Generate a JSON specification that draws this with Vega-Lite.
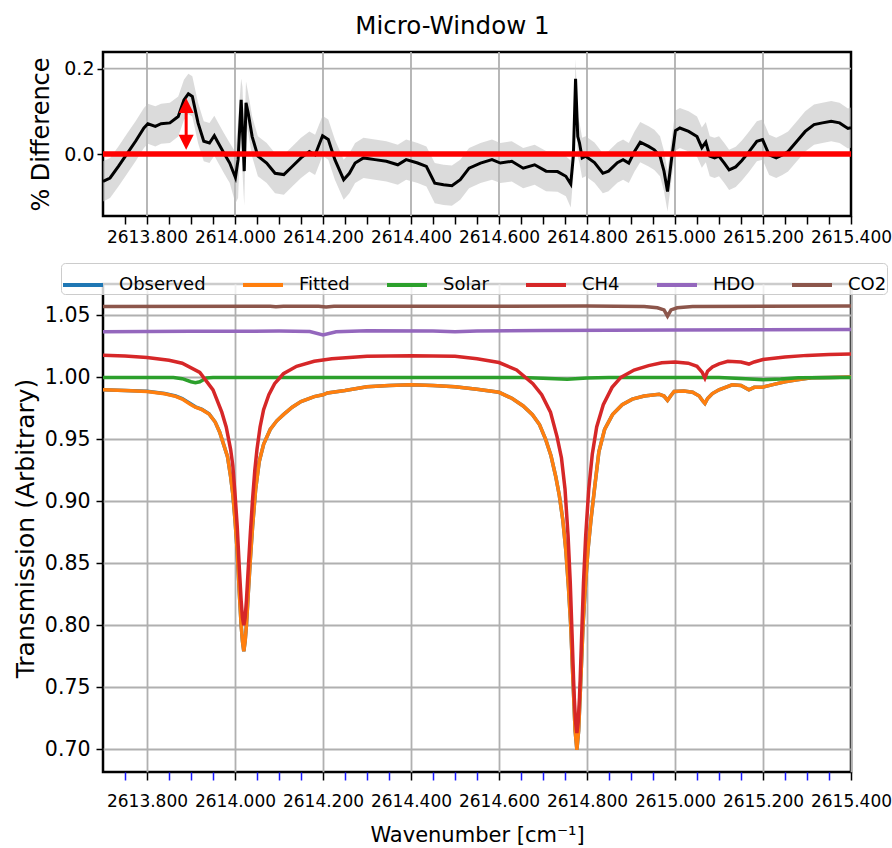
{
"$schema": "https://vega.github.io/schema/vega-lite/v6.json",
"padding": {"left": 12, "top": 14, "right": 0, "bottom": 0},
"bounds": "flush",
"spacing": 68,
"title": {"text": "Micro-Window 1", "font": "DejaVu Sans", "fontSize": 24.5, "fontWeight": "normal", "color": "black", "anchor": "middle", "offset": 10},
"config": {
  "view": {"stroke": "black", "strokeWidth": 2.5},
  "axis": {"labelFont": "DejaVu Sans", "titleFont": "DejaVu Sans", "labelColor": "black", "titleColor": "black", "titleFontWeight": "normal", "gridColor": "#b0b0b0", "gridWidth": 1.8, "domain": false, "tickColor": "black"},
  "legend": {"orient": "none", "legendX": -42, "legendY": 211, "direction": "horizontal", "columns": 6, "symbolType": "stroke", "symbolStrokeWidth": 4, "symbolSize": 1600, "labelFont": "DejaVu Sans", "labelFontSize": 18, "labelColor": "black", "labelOffset": 14, "columnPadding": 29, "fillColor": "rgba(255,255,255,0.8)", "strokeColor": "#cccccc", "cornerRadius": 4, "padding": 0}
},
"datasets": {
  "gx": [{"x": 2613.8}, {"x": 2614.0}, {"x": 2614.2}, {"x": 2614.4}, {"x": 2614.6}, {"x": 2614.8}, {"x": 2615.0}, {"x": 2615.2}],
  "gy": [{"x": 2613.7, "x2": 2615.4, "d": 0.2}],
  "diff": [
    {"x": 2613.700, "d": -0.064, "lo": -0.111, "hi": -0.017}, {"x": 2613.716, "d": -0.056, "lo": -0.103, "hi": -0.009}, {"x": 2613.735, "d": -0.029, "lo": -0.076, "hi": 0.018}, {"x": 2613.754, "d": 0.000, "lo": -0.047, "hi": 0.047}, {"x": 2613.774, "d": 0.030, "lo": -0.017, "hi": 0.077}, {"x": 2613.793, "d": 0.061, "lo": 0.014, "hi": 0.108}, {"x": 2613.802, "d": 0.071, "lo": 0.024, "hi": 0.118}, {"x": 2613.819, "d": 0.065, "lo": 0.018, "hi": 0.112}, {"x": 2613.832, "d": 0.071, "lo": 0.024, "hi": 0.118}, {"x": 2613.852, "d": 0.073, "lo": 0.026, "hi": 0.120}, {"x": 2613.871, "d": 0.088, "lo": 0.041, "hi": 0.135}, {"x": 2613.884, "d": 0.127, "lo": 0.080, "hi": 0.174}, {"x": 2613.894, "d": 0.141, "lo": 0.094, "hi": 0.188}, {"x": 2613.903, "d": 0.135, "lo": 0.088, "hi": 0.182}, {"x": 2613.916, "d": 0.073, "lo": 0.026, "hi": 0.120}, {"x": 2613.929, "d": 0.030, "lo": -0.017, "hi": 0.077}, {"x": 2613.942, "d": 0.026, "lo": -0.021, "hi": 0.073}, {"x": 2613.953, "d": 0.043, "lo": -0.004, "hi": 0.090}, {"x": 2613.962, "d": 0.026, "lo": -0.021, "hi": 0.073}, {"x": 2613.975, "d": 0.002, "lo": -0.045, "hi": 0.049}, {"x": 2613.988, "d": -0.021, "lo": -0.068, "hi": 0.026}, {"x": 2614.001, "d": -0.055, "lo": -0.115, "hi": 0.005}, {"x": 2614.007, "d": -0.013, "lo": -0.103, "hi": 0.077}, {"x": 2614.014, "d": 0.127, "lo": 0.077, "hi": 0.177}, {"x": 2614.017, "d": 0.057, "lo": -0.043, "hi": 0.157}, {"x": 2614.021, "d": -0.040, "lo": -0.120, "hi": 0.040}, {"x": 2614.025, "d": 0.120, "lo": 0.070, "hi": 0.170}, {"x": 2614.030, "d": 0.096, "lo": 0.049, "hi": 0.143}, {"x": 2614.039, "d": 0.041, "lo": -0.006, "hi": 0.088}, {"x": 2614.052, "d": -0.005, "lo": -0.052, "hi": 0.042}, {"x": 2614.072, "d": -0.021, "lo": -0.068, "hi": 0.026}, {"x": 2614.091, "d": -0.045, "lo": -0.092, "hi": 0.002}, {"x": 2614.111, "d": -0.048, "lo": -0.095, "hi": -0.001}, {"x": 2614.130, "d": -0.029, "lo": -0.076, "hi": 0.018}, {"x": 2614.150, "d": -0.009, "lo": -0.056, "hi": 0.038}, {"x": 2614.169, "d": 0.006, "lo": -0.041, "hi": 0.053}, {"x": 2614.182, "d": -0.002, "lo": -0.049, "hi": 0.045}, {"x": 2614.199, "d": 0.043, "lo": -0.004, "hi": 0.090}, {"x": 2614.212, "d": 0.034, "lo": -0.013, "hi": 0.081}, {"x": 2614.227, "d": -0.013, "lo": -0.060, "hi": 0.034}, {"x": 2614.247, "d": -0.060, "lo": -0.107, "hi": -0.013}, {"x": 2614.260, "d": -0.045, "lo": -0.092, "hi": 0.002}, {"x": 2614.273, "d": -0.021, "lo": -0.068, "hi": 0.026}, {"x": 2614.292, "d": -0.009, "lo": -0.056, "hi": 0.038}, {"x": 2614.318, "d": -0.013, "lo": -0.060, "hi": 0.034}, {"x": 2614.344, "d": -0.017, "lo": -0.064, "hi": 0.030}, {"x": 2614.370, "d": -0.025, "lo": -0.072, "hi": 0.022}, {"x": 2614.389, "d": -0.013, "lo": -0.060, "hi": 0.034}, {"x": 2614.415, "d": -0.021, "lo": -0.068, "hi": 0.026}, {"x": 2614.435, "d": -0.029, "lo": -0.076, "hi": 0.018}, {"x": 2614.454, "d": -0.068, "lo": -0.115, "hi": -0.021}, {"x": 2614.474, "d": -0.072, "lo": -0.119, "hi": -0.025}, {"x": 2614.493, "d": -0.074, "lo": -0.121, "hi": -0.027}, {"x": 2614.512, "d": -0.060, "lo": -0.107, "hi": -0.013}, {"x": 2614.532, "d": -0.033, "lo": -0.080, "hi": 0.014}, {"x": 2614.558, "d": -0.021, "lo": -0.068, "hi": 0.026}, {"x": 2614.584, "d": -0.013, "lo": -0.060, "hi": 0.034}, {"x": 2614.603, "d": -0.021, "lo": -0.068, "hi": 0.026}, {"x": 2614.629, "d": -0.017, "lo": -0.064, "hi": 0.030}, {"x": 2614.655, "d": -0.033, "lo": -0.080, "hi": 0.014}, {"x": 2614.681, "d": -0.025, "lo": -0.072, "hi": 0.022}, {"x": 2614.707, "d": -0.040, "lo": -0.087, "hi": 0.007}, {"x": 2614.733, "d": -0.041, "lo": -0.088, "hi": 0.006}, {"x": 2614.752, "d": -0.052, "lo": -0.099, "hi": -0.005}, {"x": 2614.763, "d": -0.070, "lo": -0.125, "hi": -0.015}, {"x": 2614.769, "d": -0.005, "lo": -0.052, "hi": 0.042}, {"x": 2614.774, "d": 0.176, "lo": 0.130, "hi": 0.222}, {"x": 2614.779, "d": 0.041, "lo": -0.006, "hi": 0.088}, {"x": 2614.783, "d": 0.026, "lo": -0.021, "hi": 0.073}, {"x": 2614.789, "d": -0.009, "lo": -0.056, "hi": 0.038}, {"x": 2614.797, "d": -0.005, "lo": -0.052, "hi": 0.042}, {"x": 2614.817, "d": -0.020, "lo": -0.067, "hi": 0.027}, {"x": 2614.836, "d": -0.045, "lo": -0.092, "hi": 0.002}, {"x": 2614.849, "d": -0.040, "lo": -0.087, "hi": 0.007}, {"x": 2614.869, "d": -0.020, "lo": -0.067, "hi": 0.027}, {"x": 2614.882, "d": -0.013, "lo": -0.060, "hi": 0.034}, {"x": 2614.895, "d": -0.021, "lo": -0.068, "hi": 0.026}, {"x": 2614.908, "d": 0.006, "lo": -0.041, "hi": 0.053}, {"x": 2614.921, "d": 0.028, "lo": -0.019, "hi": 0.075}, {"x": 2614.940, "d": 0.018, "lo": -0.029, "hi": 0.065}, {"x": 2614.953, "d": 0.010, "lo": -0.037, "hi": 0.057}, {"x": 2614.966, "d": -0.005, "lo": -0.052, "hi": 0.042}, {"x": 2614.975, "d": -0.040, "lo": -0.087, "hi": 0.007}, {"x": 2614.983, "d": -0.0875, "lo": -0.1345, "hi": -0.0405}, {"x": 2614.992, "d": -0.013, "lo": -0.060, "hi": 0.034}, {"x": 2615.001, "d": 0.055, "lo": 0.008, "hi": 0.102}, {"x": 2615.011, "d": 0.061, "lo": 0.014, "hi": 0.108}, {"x": 2615.031, "d": 0.053, "lo": 0.006, "hi": 0.100}, {"x": 2615.050, "d": 0.041, "lo": -0.006, "hi": 0.088}, {"x": 2615.061, "d": 0.015, "lo": -0.032, "hi": 0.062}, {"x": 2615.070, "d": 0.028, "lo": -0.019, "hi": 0.075}, {"x": 2615.079, "d": -0.005, "lo": -0.052, "hi": 0.042}, {"x": 2615.090, "d": -0.009, "lo": -0.056, "hi": 0.038}, {"x": 2615.100, "d": -0.005, "lo": -0.052, "hi": 0.042}, {"x": 2615.112, "d": -0.021, "lo": -0.068, "hi": 0.026}, {"x": 2615.123, "d": -0.037, "lo": -0.084, "hi": 0.010}, {"x": 2615.138, "d": -0.030, "lo": -0.077, "hi": 0.017}, {"x": 2615.152, "d": -0.015, "lo": -0.062, "hi": 0.032}, {"x": 2615.168, "d": 0.005, "lo": -0.042, "hi": 0.052}, {"x": 2615.186, "d": 0.030, "lo": -0.017, "hi": 0.077}, {"x": 2615.199, "d": 0.034, "lo": -0.013, "hi": 0.081}, {"x": 2615.214, "d": -0.002, "lo": -0.049, "hi": 0.045}, {"x": 2615.230, "d": -0.009, "lo": -0.056, "hi": 0.038}, {"x": 2615.244, "d": -0.002, "lo": -0.049, "hi": 0.045}, {"x": 2615.257, "d": 0.006, "lo": -0.041, "hi": 0.053}, {"x": 2615.277, "d": 0.030, "lo": -0.017, "hi": 0.077}, {"x": 2615.296, "d": 0.053, "lo": 0.006, "hi": 0.100}, {"x": 2615.316, "d": 0.069, "lo": 0.022, "hi": 0.116}, {"x": 2615.335, "d": 0.073, "lo": 0.026, "hi": 0.120}, {"x": 2615.355, "d": 0.077, "lo": 0.030, "hi": 0.124}, {"x": 2615.374, "d": 0.073, "lo": 0.026, "hi": 0.120}, {"x": 2615.393, "d": 0.060, "lo": 0.013, "hi": 0.107}, {"x": 2615.400, "d": 0.062, "lo": 0.015, "hi": 0.109}
  ],
  "zero": [{"x": 2613.7, "x2": 2615.4, "d": 0}],
  "shaft": [{"x": 2613.889, "d": 0.03, "d2": 0.11}],
  "heads": [{"x": 2613.889, "d": 0.1135, "part": "up"}, {"x": 2613.889, "d": 0.0275, "part": "down"}],
  "spec": [
    {"s": "Observed", "x": 2613.70, "T": 0.9900}, {"s": "Observed", "x": 2613.75, "T": 0.9895}, {"s": "Observed", "x": 2613.80, "T": 0.9888}, {"s": "Observed", "x": 2613.84, "T": 0.9870}, {"s": "Observed", "x": 2613.865, "T": 0.9850}, {"s": "Observed", "x": 2613.88, "T": 0.9830}, {"s": "Observed", "x": 2613.90, "T": 0.9785}, {"s": "Observed", "x": 2613.91, "T": 0.9763}, {"s": "Observed", "x": 2613.925, "T": 0.9742}, {"s": "Observed", "x": 2613.941, "T": 0.9706}, {"s": "Observed", "x": 2613.955, "T": 0.9640}, {"s": "Observed", "x": 2613.965, "T": 0.9560}, {"s": "Observed", "x": 2613.975, "T": 0.9450}, {"s": "Observed", "x": 2613.983, "T": 0.9360}, {"s": "Observed", "x": 2613.99, "T": 0.9200}, {"s": "Observed", "x": 2613.995, "T": 0.9060}, {"s": "Observed", "x": 2614.000, "T": 0.8850}, {"s": "Observed", "x": 2614.005, "T": 0.8600}, {"s": "Observed", "x": 2614.010, "T": 0.8250}, {"s": "Observed", "x": 2614.014, "T": 0.8000}, {"s": "Observed", "x": 2614.017, "T": 0.7870}, {"s": "Observed", "x": 2614.020, "T": 0.7790}, {"s": "Observed", "x": 2614.023, "T": 0.7870}, {"s": "Observed", "x": 2614.026, "T": 0.8000}, {"s": "Observed", "x": 2614.030, "T": 0.8250}, {"s": "Observed", "x": 2614.035, "T": 0.8540}, {"s": "Observed", "x": 2614.040, "T": 0.8800}, {"s": "Observed", "x": 2614.047, "T": 0.9100}, {"s": "Observed", "x": 2614.055, "T": 0.9320}, {"s": "Observed", "x": 2614.065, "T": 0.9460}, {"s": "Observed", "x": 2614.08, "T": 0.9580}, {"s": "Observed", "x": 2614.095, "T": 0.9650}, {"s": "Observed", "x": 2614.11, "T": 0.9700}, {"s": "Observed", "x": 2614.13, "T": 0.9760}, {"s": "Observed", "x": 2614.15, "T": 0.9805}, {"s": "Observed", "x": 2614.18, "T": 0.9845}, {"s": "Observed", "x": 2614.20, "T": 0.9860}, {"s": "Observed", "x": 2614.21, "T": 0.9875}, {"s": "Observed", "x": 2614.25, "T": 0.9895}, {"s": "Observed", "x": 2614.30, "T": 0.9925}, {"s": "Observed", "x": 2614.35, "T": 0.9935}, {"s": "Observed", "x": 2614.40, "T": 0.9940}, {"s": "Observed", "x": 2614.45, "T": 0.9935}, {"s": "Observed", "x": 2614.50, "T": 0.9925}, {"s": "Observed", "x": 2614.55, "T": 0.9905}, {"s": "Observed", "x": 2614.60, "T": 0.9880}, {"s": "Observed", "x": 2614.63, "T": 0.9830}, {"s": "Observed", "x": 2614.655, "T": 0.9770}, {"s": "Observed", "x": 2614.676, "T": 0.9700}, {"s": "Observed", "x": 2614.692, "T": 0.9620}, {"s": "Observed", "x": 2614.706, "T": 0.9500}, {"s": "Observed", "x": 2614.718, "T": 0.9370}, {"s": "Observed", "x": 2614.729, "T": 0.9200}, {"s": "Observed", "x": 2614.737, "T": 0.9050}, {"s": "Observed", "x": 2614.745, "T": 0.8850}, {"s": "Observed", "x": 2614.752, "T": 0.8600}, {"s": "Observed", "x": 2614.758, "T": 0.8300}, {"s": "Observed", "x": 2614.763, "T": 0.8000}, {"s": "Observed", "x": 2614.767, "T": 0.7650}, {"s": "Observed", "x": 2614.770, "T": 0.7400}, {"s": "Observed", "x": 2614.773, "T": 0.7150}, {"s": "Observed", "x": 2614.777, "T": 0.6995}, {"s": "Observed", "x": 2614.781, "T": 0.7150}, {"s": "Observed", "x": 2614.784, "T": 0.7400}, {"s": "Observed", "x": 2614.787, "T": 0.7650}, {"s": "Observed", "x": 2614.791, "T": 0.8000}, {"s": "Observed", "x": 2614.796, "T": 0.8300}, {"s": "Observed", "x": 2614.802, "T": 0.8600}, {"s": "Observed", "x": 2614.809, "T": 0.8850}, {"s": "Observed", "x": 2614.817, "T": 0.9100}, {"s": "Observed", "x": 2614.827, "T": 0.9400}, {"s": "Observed", "x": 2614.84, "T": 0.9580}, {"s": "Observed", "x": 2614.858, "T": 0.9700}, {"s": "Observed", "x": 2614.88, "T": 0.9780}, {"s": "Observed", "x": 2614.903, "T": 0.9825}, {"s": "Observed", "x": 2614.93, "T": 0.9850}, {"s": "Observed", "x": 2614.964, "T": 0.9865}, {"s": "Observed", "x": 2614.975, "T": 0.9850}, {"s": "Observed", "x": 2614.983, "T": 0.9815}, {"s": "Observed", "x": 2614.99, "T": 0.9850}, {"s": "Observed", "x": 2614.998, "T": 0.9887}, {"s": "Observed", "x": 2615.02, "T": 0.9890}, {"s": "Observed", "x": 2615.04, "T": 0.9880}, {"s": "Observed", "x": 2615.055, "T": 0.9850}, {"s": "Observed", "x": 2615.063, "T": 0.9810}, {"s": "Observed", "x": 2615.068, "T": 0.9790}, {"s": "Observed", "x": 2615.074, "T": 0.9830}, {"s": "Observed", "x": 2615.085, "T": 0.9870}, {"s": "Observed", "x": 2615.10, "T": 0.9900}, {"s": "Observed", "x": 2615.13, "T": 0.9940}, {"s": "Observed", "x": 2615.15, "T": 0.9935}, {"s": "Observed", "x": 2615.168, "T": 0.9900}, {"s": "Observed", "x": 2615.18, "T": 0.9920}, {"s": "Observed", "x": 2615.198, "T": 0.9920}, {"s": "Observed", "x": 2615.22, "T": 0.9940}, {"s": "Observed", "x": 2615.25, "T": 0.9965}, {"s": "Observed", "x": 2615.274, "T": 0.9980}, {"s": "Observed", "x": 2615.31, "T": 0.9997}, {"s": "Observed", "x": 2615.35, "T": 1.0000}, {"s": "Observed", "x": 2615.40, "T": 1.0003},

    {"s": "Fitted", "x": 2613.70, "T": 0.9900}, {"s": "Fitted", "x": 2613.75, "T": 0.9895}, {"s": "Fitted", "x": 2613.80, "T": 0.9887}, {"s": "Fitted", "x": 2613.84, "T": 0.9868}, {"s": "Fitted", "x": 2613.865, "T": 0.9847}, {"s": "Fitted", "x": 2613.88, "T": 0.9825}, {"s": "Fitted", "x": 2613.90, "T": 0.9780}, {"s": "Fitted", "x": 2613.91, "T": 0.9760}, {"s": "Fitted", "x": 2613.925, "T": 0.9740}, {"s": "Fitted", "x": 2613.941, "T": 0.9705}, {"s": "Fitted", "x": 2613.955, "T": 0.9640}, {"s": "Fitted", "x": 2613.965, "T": 0.9560}, {"s": "Fitted", "x": 2613.975, "T": 0.9450}, {"s": "Fitted", "x": 2613.983, "T": 0.9360}, {"s": "Fitted", "x": 2613.99, "T": 0.9200}, {"s": "Fitted", "x": 2613.995, "T": 0.9060}, {"s": "Fitted", "x": 2614.000, "T": 0.8850}, {"s": "Fitted", "x": 2614.005, "T": 0.8600}, {"s": "Fitted", "x": 2614.010, "T": 0.8250}, {"s": "Fitted", "x": 2614.014, "T": 0.8000}, {"s": "Fitted", "x": 2614.017, "T": 0.7870}, {"s": "Fitted", "x": 2614.020, "T": 0.7790}, {"s": "Fitted", "x": 2614.023, "T": 0.7870}, {"s": "Fitted", "x": 2614.026, "T": 0.8000}, {"s": "Fitted", "x": 2614.030, "T": 0.8250}, {"s": "Fitted", "x": 2614.035, "T": 0.8540}, {"s": "Fitted", "x": 2614.040, "T": 0.8800}, {"s": "Fitted", "x": 2614.047, "T": 0.9100}, {"s": "Fitted", "x": 2614.055, "T": 0.9320}, {"s": "Fitted", "x": 2614.065, "T": 0.9460}, {"s": "Fitted", "x": 2614.08, "T": 0.9580}, {"s": "Fitted", "x": 2614.095, "T": 0.9650}, {"s": "Fitted", "x": 2614.11, "T": 0.9700}, {"s": "Fitted", "x": 2614.13, "T": 0.9760}, {"s": "Fitted", "x": 2614.15, "T": 0.9805}, {"s": "Fitted", "x": 2614.18, "T": 0.9845}, {"s": "Fitted", "x": 2614.20, "T": 0.9860}, {"s": "Fitted", "x": 2614.21, "T": 0.9875}, {"s": "Fitted", "x": 2614.25, "T": 0.9895}, {"s": "Fitted", "x": 2614.30, "T": 0.9925}, {"s": "Fitted", "x": 2614.35, "T": 0.9935}, {"s": "Fitted", "x": 2614.40, "T": 0.9940}, {"s": "Fitted", "x": 2614.45, "T": 0.9935}, {"s": "Fitted", "x": 2614.50, "T": 0.9925}, {"s": "Fitted", "x": 2614.55, "T": 0.9905}, {"s": "Fitted", "x": 2614.60, "T": 0.9880}, {"s": "Fitted", "x": 2614.63, "T": 0.9830}, {"s": "Fitted", "x": 2614.655, "T": 0.9770}, {"s": "Fitted", "x": 2614.676, "T": 0.9700}, {"s": "Fitted", "x": 2614.692, "T": 0.9620}, {"s": "Fitted", "x": 2614.706, "T": 0.9500}, {"s": "Fitted", "x": 2614.718, "T": 0.9370}, {"s": "Fitted", "x": 2614.729, "T": 0.9200}, {"s": "Fitted", "x": 2614.737, "T": 0.9050}, {"s": "Fitted", "x": 2614.745, "T": 0.8850}, {"s": "Fitted", "x": 2614.752, "T": 0.8600}, {"s": "Fitted", "x": 2614.758, "T": 0.8300}, {"s": "Fitted", "x": 2614.763, "T": 0.8000}, {"s": "Fitted", "x": 2614.767, "T": 0.7650}, {"s": "Fitted", "x": 2614.770, "T": 0.7400}, {"s": "Fitted", "x": 2614.773, "T": 0.7150}, {"s": "Fitted", "x": 2614.777, "T": 0.6995}, {"s": "Fitted", "x": 2614.781, "T": 0.7150}, {"s": "Fitted", "x": 2614.784, "T": 0.7400}, {"s": "Fitted", "x": 2614.787, "T": 0.7650}, {"s": "Fitted", "x": 2614.791, "T": 0.8000}, {"s": "Fitted", "x": 2614.796, "T": 0.8300}, {"s": "Fitted", "x": 2614.802, "T": 0.8600}, {"s": "Fitted", "x": 2614.809, "T": 0.8850}, {"s": "Fitted", "x": 2614.817, "T": 0.9100}, {"s": "Fitted", "x": 2614.827, "T": 0.9400}, {"s": "Fitted", "x": 2614.84, "T": 0.9580}, {"s": "Fitted", "x": 2614.858, "T": 0.9700}, {"s": "Fitted", "x": 2614.88, "T": 0.9780}, {"s": "Fitted", "x": 2614.903, "T": 0.9825}, {"s": "Fitted", "x": 2614.93, "T": 0.9850}, {"s": "Fitted", "x": 2614.964, "T": 0.9865}, {"s": "Fitted", "x": 2614.975, "T": 0.9850}, {"s": "Fitted", "x": 2614.983, "T": 0.9815}, {"s": "Fitted", "x": 2614.99, "T": 0.9850}, {"s": "Fitted", "x": 2614.998, "T": 0.9887}, {"s": "Fitted", "x": 2615.02, "T": 0.9890}, {"s": "Fitted", "x": 2615.04, "T": 0.9880}, {"s": "Fitted", "x": 2615.055, "T": 0.9850}, {"s": "Fitted", "x": 2615.063, "T": 0.9810}, {"s": "Fitted", "x": 2615.068, "T": 0.9790}, {"s": "Fitted", "x": 2615.074, "T": 0.9830}, {"s": "Fitted", "x": 2615.085, "T": 0.9870}, {"s": "Fitted", "x": 2615.10, "T": 0.9900}, {"s": "Fitted", "x": 2615.13, "T": 0.9940}, {"s": "Fitted", "x": 2615.15, "T": 0.9935}, {"s": "Fitted", "x": 2615.168, "T": 0.9900}, {"s": "Fitted", "x": 2615.18, "T": 0.9920}, {"s": "Fitted", "x": 2615.198, "T": 0.9920}, {"s": "Fitted", "x": 2615.22, "T": 0.9940}, {"s": "Fitted", "x": 2615.25, "T": 0.9965}, {"s": "Fitted", "x": 2615.274, "T": 0.9980}, {"s": "Fitted", "x": 2615.31, "T": 0.9997}, {"s": "Fitted", "x": 2615.35, "T": 1.0000}, {"s": "Fitted", "x": 2615.40, "T": 1.0003},

    {"s": "Solar", "x": 2613.70, "T": 1.0000}, {"s": "Solar", "x": 2613.86, "T": 1.0000}, {"s": "Solar", "x": 2613.88, "T": 0.9990}, {"s": "Solar", "x": 2613.90, "T": 0.9965}, {"s": "Solar", "x": 2613.91, "T": 0.9958}, {"s": "Solar", "x": 2613.92, "T": 0.9965}, {"s": "Solar", "x": 2613.935, "T": 0.9995}, {"s": "Solar", "x": 2613.95, "T": 1.0000}, {"s": "Solar", "x": 2614.65, "T": 1.0000}, {"s": "Solar", "x": 2614.70, "T": 0.9993}, {"s": "Solar", "x": 2614.755, "T": 0.9985}, {"s": "Solar", "x": 2614.80, "T": 0.9995}, {"s": "Solar", "x": 2614.85, "T": 1.0000}, {"s": "Solar", "x": 2615.10, "T": 1.0000}, {"s": "Solar", "x": 2615.15, "T": 0.9992}, {"s": "Solar", "x": 2615.20, "T": 0.9982}, {"s": "Solar", "x": 2615.24, "T": 0.9988}, {"s": "Solar", "x": 2615.28, "T": 0.9998}, {"s": "Solar", "x": 2615.40, "T": 1.0000},

    {"s": "CH4", "x": 2613.70, "T": 1.0180}, {"s": "CH4", "x": 2613.75, "T": 1.0172}, {"s": "CH4", "x": 2613.80, "T": 1.0160}, {"s": "CH4", "x": 2613.85, "T": 1.0138}, {"s": "CH4", "x": 2613.88, "T": 1.0115}, {"s": "CH4", "x": 2613.92, "T": 1.0040}, {"s": "CH4", "x": 2613.95, "T": 0.9900}, {"s": "CH4", "x": 2613.97, "T": 0.9720}, {"s": "CH4", "x": 2613.98, "T": 0.9600}, {"s": "CH4", "x": 2613.99, "T": 0.9420}, {"s": "CH4", "x": 2613.995, "T": 0.9290}, {"s": "CH4", "x": 2614.000, "T": 0.9060}, {"s": "CH4", "x": 2614.005, "T": 0.8800}, {"s": "CH4", "x": 2614.010, "T": 0.8450}, {"s": "CH4", "x": 2614.014, "T": 0.8200}, {"s": "CH4", "x": 2614.017, "T": 0.8060}, {"s": "CH4", "x": 2614.020, "T": 0.8000}, {"s": "CH4", "x": 2614.023, "T": 0.8060}, {"s": "CH4", "x": 2614.026, "T": 0.8200}, {"s": "CH4", "x": 2614.030, "T": 0.8450}, {"s": "CH4", "x": 2614.035, "T": 0.8750}, {"s": "CH4", "x": 2614.040, "T": 0.9020}, {"s": "CH4", "x": 2614.045, "T": 0.9250}, {"s": "CH4", "x": 2614.050, "T": 0.9420}, {"s": "CH4", "x": 2614.057, "T": 0.9600}, {"s": "CH4", "x": 2614.065, "T": 0.9740}, {"s": "CH4", "x": 2614.077, "T": 0.9860}, {"s": "CH4", "x": 2614.09, "T": 0.9950}, {"s": "CH4", "x": 2614.11, "T": 1.0030}, {"s": "CH4", "x": 2614.14, "T": 1.0090}, {"s": "CH4", "x": 2614.18, "T": 1.0130}, {"s": "CH4", "x": 2614.22, "T": 1.0150}, {"s": "CH4", "x": 2614.30, "T": 1.0170}, {"s": "CH4", "x": 2614.40, "T": 1.0176}, {"s": "CH4", "x": 2614.50, "T": 1.0170}, {"s": "CH4", "x": 2614.55, "T": 1.0150}, {"s": "CH4", "x": 2614.60, "T": 1.0120}, {"s": "CH4", "x": 2614.64, "T": 1.0060}, {"s": "CH4", "x": 2614.677, "T": 0.9950}, {"s": "CH4", "x": 2614.697, "T": 0.9860}, {"s": "CH4", "x": 2614.717, "T": 0.9720}, {"s": "CH4", "x": 2614.732, "T": 0.9520}, {"s": "CH4", "x": 2614.742, "T": 0.9350}, {"s": "CH4", "x": 2614.750, "T": 0.9100}, {"s": "CH4", "x": 2614.757, "T": 0.8720}, {"s": "CH4", "x": 2614.762, "T": 0.8340}, {"s": "CH4", "x": 2614.766, "T": 0.7930}, {"s": "CH4", "x": 2614.7695, "T": 0.7560}, {"s": "CH4", "x": 2614.771, "T": 0.7420}, {"s": "CH4", "x": 2614.774, "T": 0.7220}, {"s": "CH4", "x": 2614.777, "T": 0.7130}, {"s": "CH4", "x": 2614.780, "T": 0.7220}, {"s": "CH4", "x": 2614.783, "T": 0.7420}, {"s": "CH4", "x": 2614.7845, "T": 0.7560}, {"s": "CH4", "x": 2614.788, "T": 0.7930}, {"s": "CH4", "x": 2614.792, "T": 0.8340}, {"s": "CH4", "x": 2614.797, "T": 0.8720}, {"s": "CH4", "x": 2614.804, "T": 0.9100}, {"s": "CH4", "x": 2614.812, "T": 0.9380}, {"s": "CH4", "x": 2614.822, "T": 0.9600}, {"s": "CH4", "x": 2614.837, "T": 0.9780}, {"s": "CH4", "x": 2614.857, "T": 0.9920}, {"s": "CH4", "x": 2614.877, "T": 1.0000}, {"s": "CH4", "x": 2614.907, "T": 1.0060}, {"s": "CH4", "x": 2614.94, "T": 1.0095}, {"s": "CH4", "x": 2614.97, "T": 1.0118}, {"s": "CH4", "x": 2615.00, "T": 1.0125}, {"s": "CH4", "x": 2615.03, "T": 1.0115}, {"s": "CH4", "x": 2615.05, "T": 1.0090}, {"s": "CH4", "x": 2615.062, "T": 1.0040}, {"s": "CH4", "x": 2615.068, "T": 0.9995}, {"s": "CH4", "x": 2615.074, "T": 1.0050}, {"s": "CH4", "x": 2615.085, "T": 1.0085}, {"s": "CH4", "x": 2615.10, "T": 1.0110}, {"s": "CH4", "x": 2615.12, "T": 1.0130}, {"s": "CH4", "x": 2615.15, "T": 1.0125}, {"s": "CH4", "x": 2615.168, "T": 1.0108}, {"s": "CH4", "x": 2615.18, "T": 1.0125}, {"s": "CH4", "x": 2615.20, "T": 1.0145}, {"s": "CH4", "x": 2615.25, "T": 1.0165}, {"s": "CH4", "x": 2615.30, "T": 1.0178}, {"s": "CH4", "x": 2615.35, "T": 1.0185}, {"s": "CH4", "x": 2615.40, "T": 1.0190},

    {"s": "HDO", "x": 2613.70, "T": 1.0368}, {"s": "HDO", "x": 2613.90, "T": 1.0372}, {"s": "HDO", "x": 2614.10, "T": 1.0374}, {"s": "HDO", "x": 2614.17, "T": 1.0370}, {"s": "HDO", "x": 2614.20, "T": 1.0342}, {"s": "HDO", "x": 2614.23, "T": 1.0368}, {"s": "HDO", "x": 2614.30, "T": 1.0376}, {"s": "HDO", "x": 2614.45, "T": 1.0374}, {"s": "HDO", "x": 2614.50, "T": 1.0368}, {"s": "HDO", "x": 2614.55, "T": 1.0374}, {"s": "HDO", "x": 2614.70, "T": 1.0378}, {"s": "HDO", "x": 2615.00, "T": 1.0383}, {"s": "HDO", "x": 2615.40, "T": 1.0386},

    {"s": "CO2", "x": 2613.70, "T": 1.0572}, {"s": "CO2", "x": 2614.08, "T": 1.0574}, {"s": "CO2", "x": 2614.093, "T": 1.0570}, {"s": "CO2", "x": 2614.11, "T": 1.0574}, {"s": "CO2", "x": 2614.19, "T": 1.0574}, {"s": "CO2", "x": 2614.207, "T": 1.0568}, {"s": "CO2", "x": 2614.225, "T": 1.0574}, {"s": "CO2", "x": 2614.80, "T": 1.0576}, {"s": "CO2", "x": 2614.93, "T": 1.0572}, {"s": "CO2", "x": 2614.96, "T": 1.0562}, {"s": "CO2", "x": 2614.975, "T": 1.0545}, {"s": "CO2", "x": 2614.983, "T": 1.0495}, {"s": "CO2", "x": 2614.991, "T": 1.0545}, {"s": "CO2", "x": 2615.005, "T": 1.0562}, {"s": "CO2", "x": 2615.04, "T": 1.0572}, {"s": "CO2", "x": 2615.40, "T": 1.0577}
  ]
},
"vconcat": [
  {
    "width": 748, "height": 164,
    "encoding": {
      "x": {"field": "x", "type": "quantitative", "title": null,
            "scale": {"domain": [2613.7, 2615.4], "nice": false, "zero": false},
            "axis": {"values": [2613.75, 2613.8, 2613.85, 2613.9, 2613.95, 2614.0, 2614.05, 2614.1, 2614.15, 2614.2, 2614.25, 2614.3, 2614.35, 2614.4, 2614.45, 2614.5, 2614.55, 2614.6, 2614.65, 2614.7, 2614.75, 2614.8, 2614.85, 2614.9, 2614.95, 2615.0, 2615.05, 2615.1, 2615.15, 2615.2, 2615.25, 2615.3, 2615.35, 2615.4],
                     "labelExpr": "round(datum.value*20) % 4 === 0 ? format(datum.value, '.3f') : ''",
                     "labelFontSize": 17, "labelPadding": 5, "labelOverlap": false, "labelFlush": false, "labelBound": false,
                     "tickSize": 8, "tickWidth": 1.5, "tickColor": "black", "grid": false}}
    },
    "layer": [
      {
        "data": {"name": "gx"},
        "mark": {"type": "rule", "color": "#b0b0b0", "strokeWidth": 1.8},
        "encoding": {}
      },
      {
        "data": {"name": "gy"},
        "mark": {"type": "rule", "color": "#b0b0b0", "strokeWidth": 1.8},
        "encoding": {
          "x2": {"field": "x2"},
          "y": {"field": "d", "type": "quantitative", "title": "% Difference",
                "scale": {"domain": [-0.145, 0.239], "nice": false, "zero": false},
                "axis": {"values": [0, 0.2], "format": ".1f", "labelFontSize": 19, "labelPadding": 3, "tickSize": 6, "tickWidth": 1.5, "grid": false, "titleFontSize": 24, "titlePadding": 10}}
        }
      },
      {
        "data": {"name": "diff"},
        "mark": {"type": "area", "color": "#bdbdbd", "opacity": 0.55, "clip": true},
        "encoding": {"y": {"field": "hi", "type": "quantitative", "title": "% Difference"}, "y2": {"field": "lo"}}
      },
      {
        "data": {"name": "diff"},
        "mark": {"type": "line", "color": "black", "strokeWidth": 3, "clip": true},
        "encoding": {"y": {"field": "d", "type": "quantitative", "title": "% Difference"}}
      },
      {
        "data": {"name": "zero"},
        "mark": {"type": "rule", "color": "#ff0000", "strokeWidth": 5.5},
        "encoding": {"x2": {"field": "x2"}, "y": {"field": "d", "type": "quantitative", "title": "% Difference"}}
      },
      {
        "data": {"name": "shaft"},
        "mark": {"type": "rule", "color": "#ff0000", "strokeWidth": 3},
        "encoding": {"y": {"field": "d", "type": "quantitative", "title": "% Difference"}, "y2": {"field": "d2"}}
      },
      {
        "data": {"name": "heads"},
        "mark": {"type": "point", "filled": true, "color": "#ff0000", "opacity": 1, "size": 225, "strokeWidth": 0},
        "encoding": {
          "y": {"field": "d", "type": "quantitative", "title": "% Difference"},
          "shape": {"field": "part", "type": "nominal", "scale": {"domain": ["up", "down"], "range": ["M-1,1L0,-1L1,1Z", "M-1,-1L0,1L1,-1Z"]}, "legend": null}
        }
      }
    ]
  },
  {
    "width": 748, "height": 488,
    "data": {"name": "spec"},
    "mark": {"type": "line", "strokeWidth": 3.5, "clip": true},
    "encoding": {
      "x": {"field": "x", "type": "quantitative", "title": "Wavenumber [cm⁻¹]",
            "scale": {"domain": [2613.7, 2615.4], "nice": false, "zero": false},
            "axis": {"values": [2613.75, 2613.8, 2613.85, 2613.9, 2613.95, 2614.0, 2614.05, 2614.1, 2614.15, 2614.2, 2614.25, 2614.3, 2614.35, 2614.4, 2614.45, 2614.5, 2614.55, 2614.6, 2614.65, 2614.7, 2614.75, 2614.8, 2614.85, 2614.9, 2614.95, 2615.0, 2615.05, 2615.1, 2615.15, 2615.2, 2615.25, 2615.3, 2615.35, 2615.4],
                     "labelExpr": "round(datum.value*20) % 4 === 0 ? format(datum.value, '.3f') : ''",
                     "labelFontSize": 17, "labelPadding": 13, "labelOverlap": false, "labelFlush": false, "labelBound": false,
                     "tickSize": 8, "tickWidth": 1.5,
                     "tickColor": {"condition": {"test": "round(datum.value*20) % 4 === 0", "value": "black"}, "value": "#1a1aff"},
                     "grid": true, "gridOpacity": {"condition": {"test": "round(datum.value*20) % 4 === 0", "value": 1}, "value": 0},
                     "titleFontSize": 21, "titlePadding": 15}},
      "y": {"field": "T", "type": "quantitative", "title": "Transmission (Arbitrary)",
            "scale": {"domain": [0.6816, 1.0754], "nice": false, "zero": false},
            "axis": {"values": [0.70, 0.75, 0.80, 0.85, 0.90, 0.95, 1.00, 1.05], "format": ".2f", "labelFontSize": 20.5, "labelPadding": 6, "tickSize": 7, "tickWidth": 1.5, "grid": true, "titleFontSize": 25, "titlePadding": 6}},
      "color": {"field": "s", "type": "nominal", "title": null,
                "scale": {"domain": ["Observed", "Fitted", "Solar", "CH4", "HDO", "CO2"], "range": ["#1f77b4", "#ff7f0e", "#2ca02c", "#d62728", "#9467bd", "#8c564b"]},
                "legend": {"title": null}}
    }
  }
]
}
